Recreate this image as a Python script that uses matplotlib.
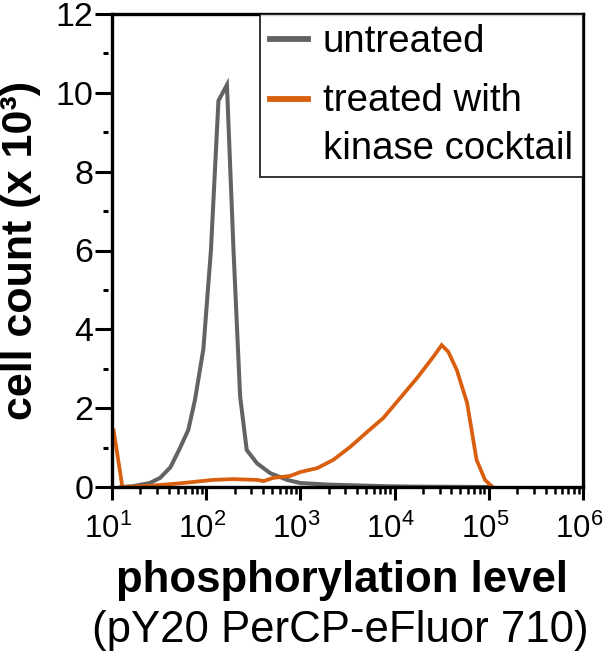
import numpy as np
import matplotlib
matplotlib.use('Agg')
import matplotlib.pyplot as plt
from matplotlib.ticker import LogLocator, MultipleLocator
from matplotlib.transforms import ScaledTranslation
from matplotlib.path import Path

plt.rcParams['font.family'] = ['Liberation Sans', 'DejaVu Sans']
plt.rcParams['mathtext.fontset'] = 'custom'
plt.rcParams['mathtext.rm'] = 'Liberation Sans'
plt.rcParams['mathtext.default'] = 'regular'

# histogram outlines (x as log10 exponent, counts in thousands)
untreated_exp = [1.10, 1.22, 1.40, 1.51, 1.62, 1.72, 1.81, 1.88, 1.97, 2.05, 2.13, 2.22,
                 2.29, 2.36, 2.43, 2.54, 2.68, 2.86, 3.00, 3.30, 3.60, 3.90, 4.20, 5.00]
untreated_cnt = [0.0, 0.02, 0.10, 0.23, 0.50, 0.98, 1.45, 2.20, 3.50, 6.00, 9.80, 10.20,
                 6.00, 2.30, 0.94, 0.60, 0.35, 0.18, 0.10, 0.06, 0.04, 0.02, 0.01, 0.0]

treated_exp = [1.00, 1.02, 1.11, 1.40, 1.75, 2.07, 2.28, 2.54, 2.61, 2.71, 2.89, 3.00,
               3.18, 3.35, 3.53, 3.71, 3.88, 4.06, 4.24, 4.41, 4.50, 4.57, 4.66, 4.77,
               4.87, 4.96, 5.04]
treated_cnt = [1.35, 1.40, 0.0, 0.03, 0.10, 0.18, 0.20, 0.18, 0.15, 0.23, 0.28, 0.38,
               0.48, 0.69, 1.02, 1.40, 1.75, 2.26, 2.77, 3.30, 3.60, 3.43, 2.97, 2.13,
               0.69, 0.18, 0.0]

labels = ['untreated', 'treated with\nkinase cocktail']
colors = ['#636363', '#d95f0e']

fig = plt.figure(figsize=(6.04, 6.51), dpi=100)
ax = fig.add_axes([112 / 604, 1 - 487 / 651, (583 - 112) / 604, (487 - 14) / 651])

ax.plot(10 ** np.array(untreated_exp), untreated_cnt, color=colors[0], lw=2.9,
        label=labels[0], solid_joinstyle='miter')
ax.plot(10 ** np.array(treated_exp), treated_cnt, color=colors[1], lw=2.7,
        label=labels[1], solid_joinstyle='miter')

ax.set_xscale('log')
ax.set_xlim(10, 1e6)
ax.set_ylim(0, 12)
ax.xaxis.set_major_locator(LogLocator(base=10, numticks=10))
ax.xaxis.set_minor_locator(LogLocator(base=10, subs=np.arange(2, 10), numticks=20))
ax.yaxis.set_major_locator(MultipleLocator(2))
ax.yaxis.set_minor_locator(MultipleLocator(1))

for s in ax.spines.values():
    s.set_linewidth(2.4)
ax.tick_params(axis='both', which='major', direction='out', width=2.2)
ax.tick_params(axis='y', which='major', length=12, pad=1.5, labelsize=24.5)
ax.tick_params(axis='x', which='major', length=9, pad=10, labelsize=22.5)
ax.tick_params(axis='y', which='minor', length=13, width=2.2)
ax.tick_params(axis='x', which='minor', length=5, width=1.8)

# minor y ticks are short dashes standing off the spine
for tick in ax.yaxis.get_minor_ticks():
    tick.tick1line.set_marker(Path([[-1, 0], [-0.45, 0]]))

# decade labels sit a little left of their ticks in the original
shift = ScaledTranslation(-4 / 100, 0, fig.dpi_scale_trans)
for lab in ax.get_xticklabels():
    lab.set_transform(lab.get_transform() + shift)

ax.set_ylabel('cell count (x 10³)', fontsize=31, fontweight='bold', labelpad=10)

fig.text(0.566, 0.091, 'phosphorylation level', fontsize=31.5, fontweight='bold',
         ha='center', va='baseline')
fig.text(0.564, 0.014, '(pY20 PerCP-eFluor 710)', fontsize=31.5,
         ha='center', va='baseline')

ls = 1.42
leg = ax.legend(loc='upper right', bbox_to_anchor=(1, 1), borderaxespad=0,
                fontsize=27.6, frameon=True, fancybox=False, edgecolor='black',
                handlelength=1.0, handletextpad=0.37, borderpad=0.27,
                labelspacing=0.6)
leg.get_frame().set_linewidth(1.4)
for t in leg.get_texts():
    t.set_linespacing(ls)
# keep the orange key on the first line of its two-line label
orange = leg.get_lines()[1]
orange.set_ydata(np.asarray(orange.get_ydata()) + 0.5 * ls * 27.6)
for ln in leg.get_lines():
    ln.set_linewidth(4.2)

fig.savefig('out.png', dpi=100)
